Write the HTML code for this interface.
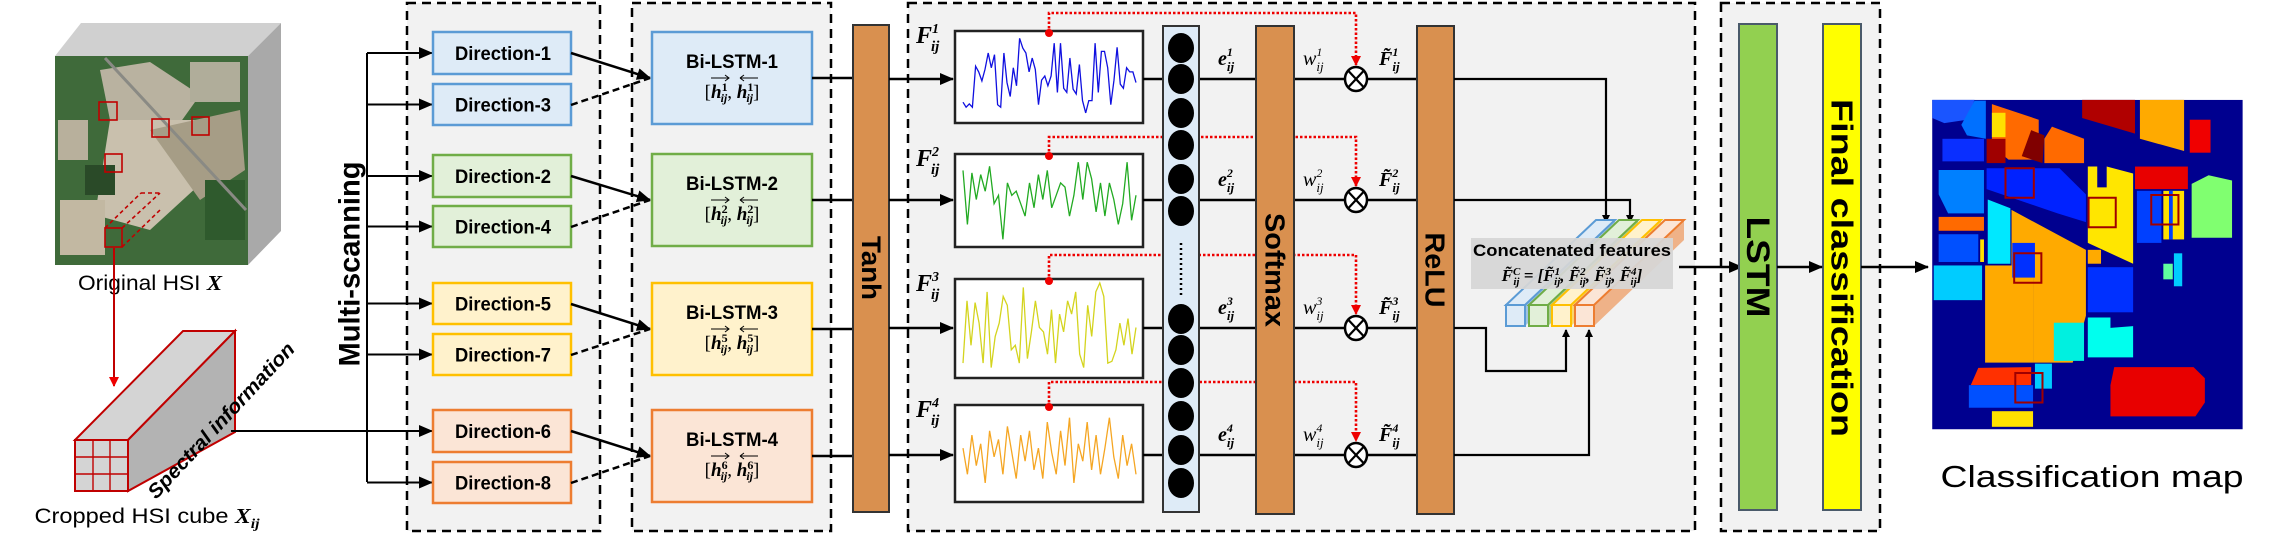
<!DOCTYPE html>
<html><head><meta charset="utf-8">
<style>
html,body{margin:0;padding:0;background:#fff;}
svg{display:block;}
.b{font-family:"Liberation Sans",sans-serif;font-weight:bold;}
.n{font-family:"Liberation Sans Narrow","Liberation Sans",sans-serif;}
.m{font-family:"Liberation Serif",serif;font-style:italic;font-weight:bold;}
</style></head>
<body>
<svg id="svg" width="2269" height="534" viewBox="0 0 2269 534" xmlns="http://www.w3.org/2000/svg">
<defs>
<marker id="ah" markerWidth="8" markerHeight="8" refX="7" refY="4" orient="auto" markerUnits="userSpaceOnUse"><path d="M0,0 L8,4 L0,8 z" fill="#000"/></marker>
<marker id="ahb" markerWidth="14" markerHeight="12" refX="13" refY="6" orient="auto" markerUnits="userSpaceOnUse"><path d="M0,0 L14,6 L0,12 z" fill="#000"/></marker>
<marker id="ahr" markerWidth="10" markerHeight="10" refX="9" refY="5" orient="auto" markerUnits="userSpaceOnUse"><path d="M0,0 L10,5 L0,10 z" fill="#e00"/></marker>
</defs>

<rect x="407" y="3" width="193" height="528" fill="#f2f2f2" stroke="#000" stroke-width="2.5" stroke-dasharray="9,6"/>
<rect x="632" y="3" width="199" height="528" fill="#f2f2f2" stroke="#000" stroke-width="2.5" stroke-dasharray="9,6"/>
<rect x="908" y="3" width="787" height="528" fill="#f2f2f2" stroke="#000" stroke-width="2.5" stroke-dasharray="9,6"/>
<rect x="1721" y="3" width="159" height="528" fill="#f2f2f2" stroke="#000" stroke-width="2.5" stroke-dasharray="9,6"/>

<g>
<polygon points="55,56 81,23 281,23 248,56" fill="#d0d0d0"/>
<polygon points="248,56 281,23 281,231 248,265" fill="#a9a9a9"/>
<rect x="55" y="56" width="193" height="209" fill="#3f6a3a"/>
<polygon points="100,70 150,62 200,95 175,130 110,120" fill="#b9b2a0"/>
<polygon points="110,120 200,120 210,175 150,230 95,215" fill="#c9c0ad"/>
<polygon points="150,130 240,110 245,170 200,200" fill="#a69d86"/>
<rect x="60" y="200" width="45" height="55" fill="#c2b8a2"/>
<rect x="190" y="62" width="50" height="40" fill="#b0ad9a"/>
<rect x="58" y="120" width="30" height="40" fill="#b8b09c"/>
<rect x="85" y="165" width="30" height="30" fill="#2a4a28"/>
<rect x="205" y="180" width="40" height="60" fill="#2f5a2d"/>
<line x1="105" y1="58" x2="246" y2="210" stroke="#8a8a84" stroke-width="3"/>
<g fill="none" stroke="#c00000" stroke-width="1.6">
<rect x="99" y="102" width="18" height="18"/><rect x="152" y="119" width="17" height="18"/>
<rect x="192" y="117" width="17" height="18"/><rect x="105" y="154" width="17" height="18"/>
<rect x="105" y="228" width="17" height="19"/>
<line x1="105" y1="228" x2="141" y2="193" stroke-dasharray="4,3"/><line x1="122" y1="228" x2="160" y2="193" stroke-dasharray="4,3"/>
<line x1="141" y1="193" x2="160" y2="193" stroke-dasharray="4,3"/><line x1="122" y1="247" x2="160" y2="210" stroke-dasharray="4,3"/>
</g>
</g>
<text x="150" y="290" text-anchor="middle" font-family="Liberation Sans, sans-serif" font-size="21" textLength="144" lengthAdjust="spacingAndGlyphs">Original HSI <tspan class="m">X</tspan></text>
<line x1="114" y1="248" x2="114" y2="386" stroke="#c00000" stroke-width="2" marker-end="url(#ahr)"/>

<g stroke="#c00000" stroke-width="2">
<polygon points="75,440 183,331 235,331 128,440" fill="#d4d4d4"/>
<polygon points="128,440 235,331 235,432 128,491" fill="#b3b3b3"/>
<rect x="75" y="440" width="53" height="51" fill="#d4d4d4"/>
<line x1="93" y1="440" x2="93" y2="491" stroke-width="1.4"/><line x1="110" y1="440" x2="110" y2="491" stroke-width="1.4"/>
<line x1="75" y1="457" x2="128" y2="457" stroke-width="1.4"/><line x1="75" y1="474" x2="128" y2="474" stroke-width="1.4"/>
</g>
<text transform="translate(226,425) rotate(-47)" text-anchor="middle" class="b" font-style="italic" font-size="20" textLength="205" lengthAdjust="spacingAndGlyphs">Spectral information</text>
<text x="147" y="523" text-anchor="middle" font-family="Liberation Sans, sans-serif" font-size="21" textLength="225" lengthAdjust="spacingAndGlyphs">Cropped HSI cube <tspan class="m">X</tspan><tspan class="m" font-size="14" dy="5">ij</tspan></text>

<g stroke="#000" stroke-width="2" fill="none">
<line x1="231" y1="431" x2="367" y2="431"/>
<line x1="367" y1="53" x2="367" y2="482"/>
</g>
<text transform="translate(350,264) rotate(-90)" text-anchor="middle" dominant-baseline="central" class="b" font-size="30" textLength="205" lengthAdjust="spacingAndGlyphs">Multi-scanning</text>

<g id="dirs"></g>
<g id="bilstm"></g>

<rect x="853" y="25" width="36" height="487" fill="#d9904f" stroke="#333" stroke-width="2"/>
<text transform="translate(871,268) rotate(90)" text-anchor="middle" dominant-baseline="central" class="b" font-size="27" textLength="64" lengthAdjust="spacingAndGlyphs">Tanh</text>

<g id="rows"></g>

<rect x="1163" y="26" width="36" height="486" fill="#deebf7" stroke="#333" stroke-width="2"/>
<g id="neurons"></g>
<line x1="1181" y1="243" x2="1181" y2="295" stroke="#000" stroke-width="2.5" stroke-dasharray="2,3"/>

<rect x="1256" y="26" width="38" height="488" fill="#d9904f" stroke="#333" stroke-width="2"/>
<text transform="translate(1275,270) rotate(90)" text-anchor="middle" dominant-baseline="central" class="b" font-size="28" textLength="114" lengthAdjust="spacingAndGlyphs">Softmax</text>
<rect x="1417" y="26" width="37" height="488" fill="#d9904f" stroke="#333" stroke-width="2"/>
<text transform="translate(1435,270) rotate(90)" text-anchor="middle" dominant-baseline="central" class="b" font-size="28" textLength="75" lengthAdjust="spacingAndGlyphs">ReLU</text>

<g stroke="#000" stroke-width="2.2" fill="none">
<polyline points="1454,79 1606,79 1606,222" marker-end="url(#ah)"/>
<polyline points="1454,200 1630,200 1630,222" marker-end="url(#ah)"/>
<polyline points="1454,328 1486,328 1486,371 1566,371 1566,330" marker-end="url(#ah)"/>
<polyline points="1454,455 1589,455 1589,330" marker-end="url(#ah)"/>
</g>
<g id="concat"></g>
<rect x="1471" y="238" width="202" height="51" fill="#d6d6d6" opacity="0.93"/>
<text x="1572" y="256" text-anchor="middle" class="b" font-size="17" textLength="198" lengthAdjust="spacingAndGlyphs">Concatenated features</text>
<text x="1572" y="281" text-anchor="middle" class="m" font-size="17">F̃<tspan font-size="11" dy="-6">C</tspan><tspan font-size="11" dx="-7" dy="10">ij</tspan><tspan dy="-4"> = [F̃</tspan><tspan font-size="11" dy="-6">1</tspan><tspan font-size="11" dx="-6" dy="10">ij</tspan><tspan dy="-4">, F̃</tspan><tspan font-size="11" dy="-6">2</tspan><tspan font-size="11" dx="-6" dy="10">ij</tspan><tspan dy="-4">, F̃</tspan><tspan font-size="11" dy="-6">3</tspan><tspan font-size="11" dx="-6" dy="10">ij</tspan><tspan dy="-4">, F̃</tspan><tspan font-size="11" dy="-6">4</tspan><tspan font-size="11" dx="-6" dy="10">ij</tspan><tspan dy="-4">]</tspan></text>
<line x1="1679" y1="267" x2="1742" y2="267" stroke="#000" stroke-width="2.5" marker-end="url(#ahb)"/>

<rect x="1739" y="24" width="38" height="486" fill="#92d050" stroke="#4a5a6a" stroke-width="2"/>
<text transform="translate(1758,267) rotate(90)" text-anchor="middle" dominant-baseline="central" class="b" font-size="32" textLength="101" lengthAdjust="spacingAndGlyphs">LSTM</text>
<rect x="1823" y="24" width="38" height="486" fill="#ffff00" stroke="#4a5a6a" stroke-width="2"/>
<text transform="translate(1842,268) rotate(90)" text-anchor="middle" dominant-baseline="central" class="b" font-size="31" textLength="338" lengthAdjust="spacingAndGlyphs">Final classification</text>
<line x1="1777" y1="267" x2="1822" y2="267" stroke="#000" stroke-width="2.5" marker-end="url(#ahb)"/>
<line x1="1861" y1="267" x2="1928" y2="267" stroke="#000" stroke-width="2.5" marker-end="url(#ahb)"/>

<g transform="translate(1680,0) scale(0.3776,0.347)">
<rect x="668" y="288" width="822" height="949" fill="#00008f"/>
<polygon points="668,288 780,288 760,345 700,355 668,340" fill="#1a55ff"/>
<polygon points="780,290 810,290 810,400 760,390 745,360" fill="#0070ff"/>
<polygon points="826,300 950,345 950,460 870,460 826,420" fill="#ff6a00"/>
<rect x="826" y="325" width="36" height="70" fill="#ffe000"/>
<rect x="812" y="400" width="50" height="70" fill="#a00000"/>
<polygon points="930,375 965,390 960,470 905,450" fill="#800000"/>
<polygon points="985,365 1070,400 1070,470 965,470 965,400" fill="#ff6a00"/>
<polygon points="1065,288 1205,288 1205,385 1065,340" fill="#b00000"/>
<polygon points="1218,288 1335,288 1335,435 1218,400" fill="#ffaa00"/>
<rect x="1350" y="345" width="55" height="95" fill="#f00000"/>
<rect x="695" y="400" width="110" height="65" fill="#0a2fff"/>
<polygon points="685,490 805,490 805,615 710,615 685,560" fill="#0080ff"/>
<polygon points="812,485 1005,485 1075,560 1075,640 1000,615 812,545" fill="#0022ff"/>
<rect x="685" y="625" width="120" height="40" fill="#ff6a00"/>
<rect x="685" y="675" width="105" height="80" fill="#0050ff"/>
<rect x="795" y="690" width="10" height="65" fill="#ffe000"/>
<rect x="672" y="765" width="128" height="100" fill="#00ccff"/>
<polygon points="815,575 875,600 875,760 815,760" fill="#00e8ff"/>
<polygon points="878,605 1075,720 1075,910 1040,1045 935,1045 935,800 878,790" fill="#ffaa00"/>
<rect x="808" y="765" width="127" height="280" fill="#ffaa00"/>
<rect x="880" y="700" width="60" height="100" fill="#0030ff"/>
<polygon points="1080,480 1105,480 1105,540 1130,540 1130,480 1200,500 1200,760 1080,700" fill="#ffe600"/>
<rect x="1080" y="720" width="35" height="40" fill="#ffaa00"/>
<rect x="1080" y="770" width="120" height="130" fill="#0030ff"/>
<rect x="1205" y="480" width="140" height="65" fill="#e80000"/>
<rect x="1210" y="550" width="65" height="150" fill="#0040ff"/>
<rect x="1280" y="550" width="55" height="140" fill="#ffe000"/>
<rect x="1295" y="550" width="10" height="140" fill="#0040ff"/>
<polygon points="1355,530 1400,505 1462,520 1462,685 1355,685" fill="#80ff70"/>
<rect x="1280" y="760" width="25" height="45" fill="#60ff9f"/>
<rect x="1308" y="730" width="22" height="95" fill="#00ccff"/>
<rect x="990" y="930" width="80" height="110" fill="#00f0e0"/>
<polygon points="1080,915 1140,915 1140,945 1200,940 1200,1030 1080,1030" fill="#00ffee"/>
<polygon points="790,1060 930,1058 930,1110 770,1110" fill="#ff3000"/>
<rect x="765" y="1110" width="170" height="65" fill="#0050ff"/>
<rect x="940" y="1048" width="45" height="72" fill="#00ccff"/>
<polygon points="1150,1058 1360,1058 1390,1090 1390,1160 1365,1200 1140,1200 1140,1110" fill="#e80000"/>
<rect x="826" y="1185" width="109" height="45" fill="#ffe000"/>
<g fill="none" stroke="#a00000" stroke-width="2">
<rect x="862" y="485" width="75" height="85" vector-effect="non-scaling-stroke"/>
<rect x="1082" y="570" width="72" height="85" vector-effect="non-scaling-stroke"/>
<rect x="1248" y="562" width="72" height="85" vector-effect="non-scaling-stroke"/>
<rect x="885" y="730" width="72" height="85" vector-effect="non-scaling-stroke"/>
<rect x="888" y="1075" width="72" height="85" vector-effect="non-scaling-stroke"/>
</g>
</g>
<text x="2092" y="487" text-anchor="middle" font-family="Liberation Sans, sans-serif" font-size="31" textLength="303" lengthAdjust="spacingAndGlyphs">Classification map</text>
</svg>

<script>
const sig1 = [0.18,0.12,0.16,0.12,0.62,0.55,0.44,0.58,0.78,0.6,0.76,0.15,0.12,0.78,0.42,0.25,0.6,0.38,0.96,0.84,0.78,0.55,0.72,0.58,0.15,0.45,0.5,0.38,0.5,0.9,0.3,0.9,0.35,0.3,0.72,0.34,0.28,0.64,0.2,0.05,0.2,0.2,0.9,0.3,0.8,0.8,0.6,0.15,0.45,0.85,0.4,0.35,0.6,0.55,0.55,0.42];
const sig2 = [0.85,0.2,0.82,0.5,0.8,0.6,0.9,0.45,0.55,0.02,0.7,0.55,0.6,0.45,0.3,0.7,0.4,0.8,0.5,0.85,0.4,0.55,0.7,0.65,0.3,0.55,0.95,0.5,0.95,0.75,0.35,0.7,0.3,0.7,0.5,0.2,0.45,0.95,0.25,0.55];
const sig3 = [0.1,0.8,0.3,0.78,0.55,0.1,0.9,0.05,0.4,0.55,0.85,0.75,0.25,0.3,0.1,0.95,0.15,0.45,0.8,0.5,0.45,0.2,0.7,0.1,0.65,0.45,0.8,0.65,0.9,0.2,0.05,0.75,0.4,0.9,1.0,0.85,0.1,0.12,0.25,0.55,0.3,0.6,0.2,0.5];
const sig4 = [0.55,0.25,0.7,0.35,0.6,0.15,0.75,0.45,0.65,0.25,0.8,0.5,0.2,0.7,0.4,0.75,0.3,0.55,0.2,0.85,0.5,0.25,0.75,0.35,0.9,0.15,0.6,0.4,0.85,0.3,0.7,0.25,0.55,0.9,0.45,0.2,0.7,0.35,0.6,0.25];
const signals = [sig1, sig2, sig3, sig4];
const sigColors = ['#1010e0','#22aa22','#d4d41e','#f5a623'];
const rowLabels = ['1','2','3','4'];
const dirNames = ['Direction-1','Direction-3','Direction-2','Direction-4','Direction-5','Direction-7','Direction-6','Direction-8'];
const hIdx = ['1','2','5','6'];

const NS='http://www.w3.org/2000/svg';
function mk(tag, attrs, parent){const e=document.createElementNS(NS,tag);for(const k in attrs)e.setAttribute(k,attrs[k]);parent.appendChild(e);return e;}
const pal=[['#deebf7','#5b9bd5'],['#e2f0d9','#70ad47'],['#fff2cc','#ffc000'],['#fbe5d6','#ed7d31']];

const dirY=[[32,74],[84,125],[155,197],[206,247],[283,324],[334,375],[410,452],[462,503]];
const dg=document.getElementById('dirs');
dirY.forEach((d,i)=>{
  const c=pal[Math.floor(i/2)];
  const my=(d[0]+d[1])/2;
  const a=mk('line',{x1:367,y1:my,x2:432,y2:my,stroke:'#000','stroke-width':2,'marker-end':'url(#ahb)'},dg);
  
  
  const r=mk('rect',{x:433,y:d[0],width:138,height:d[1]-d[0],fill:c[0],stroke:c[1],'stroke-width':2.5},dg);
  
  
  const t=mk('text',{x:503,y:my+7,'text-anchor':'middle','class':'b','font-size':19,textLength:96,lengthAdjust:'spacingAndGlyphs'},dg);
  t.textContent=dirNames[i];
  
  
});

const bY=[[32,124],[154,246],[283,375],[410,502]];
const bg=document.getElementById('bilstm');
bY.forEach((b,i)=>{
  const c=pal[i];const my=(b[0]+b[1])/2;
  const l1=mk('line',{x1:571,y1:dirY[2*i][0]+21,x2:650,y2:my,stroke:'#000','stroke-width':2.5,'marker-end':'url(#ahb)'},bg);
  
  
  const l2=mk('line',{x1:571,y1:dirY[2*i+1][0]+21,x2:650,y2:my,stroke:'#000','stroke-width':2.5,'stroke-dasharray':'7,4'},bg);
  
  
  const r=mk('rect',{x:652,y:b[0],width:160,height:b[1]-b[0],fill:c[0],stroke:c[1],'stroke-width':2.5},bg);
  
  
  const t=mk('text',{x:732,y:b[0]+36,'text-anchor':'middle','class':'b','font-size':19,textLength:92,lengthAdjust:'spacingAndGlyphs'},bg);
  t.textContent='Bi-LSTM-'+(i+1);
  
  
  const f=mk('text',{x:732,y:b[0]+66,'text-anchor':'middle','font-family':'Liberation Serif, serif','font-size':19},bg);
  f.innerHTML='[<tspan font-style="italic" font-weight="bold">h</tspan><tspan font-size="12" dy="-7" font-weight="bold">'+hIdx[i]+'</tspan><tspan font-size="12" dx="-7" dy="11" font-style="italic" font-weight="bold">ij</tspan><tspan dy="-4">, </tspan><tspan font-style="italic" font-weight="bold">h</tspan><tspan font-size="12" dy="-7" font-weight="bold">'+hIdx[i]+'</tspan><tspan font-size="12" dx="-7" dy="11" font-style="italic" font-weight="bold">ij</tspan><tspan dy="-4">]</tspan>';
  
  
  mk('path',{d:'M711 '+(b[0]+46)+' h18 m-4 -3 l4 3 l-4 3',stroke:'#000','stroke-width':1,fill:'none'},bg);
  mk('path',{d:'M740 '+(b[0]+46)+' h18 m-18 0 l4 -3 m-4 3 l4 3',stroke:'#000','stroke-width':1,fill:'none'},bg);
  const o=mk('line',{x1:812,y1:my,x2:853,y2:my,stroke:'#000','stroke-width':2.5},bg);
  
  
});

const rowY=[79,200,328,455];
const plotBox=[[31,123],[154,247],[279,378],[405,502]];
const redTop=[13,137,255,382];
const rg=document.getElementById('rows');
function xs(i,n){return 963+i*(1136-963)/(n-1);}
function ys(v,b){return b[1]-6-v*(b[1]-b[0]-10);}
rowY.forEach((y,i)=>{
  const b=plotBox[i];
  const a=mk('line',{x1:889,y1:y,x2:953,y2:y,stroke:'#000','stroke-width':2.5,'marker-end':'url(#ahb)'},rg);
  
  
  const r=mk('rect',{x:955,y:b[0],width:188,height:b[1]-b[0],fill:'#fff',stroke:'#222','stroke-width':2.5},rg);
  
  
  const s=signals[i];
  const pts=s.map((v,k)=>xs(k,s.length).toFixed(1)+','+ys(v,b).toFixed(1)).join(' ');
  const pl=mk('polyline',{points:pts,fill:'none',stroke:sigColors[i],'stroke-width':1.3},rg);
  
  
  const lab=mk('text',{x:916,y:b[0]+12,'class':'m','font-size':24},rg);
  lab.innerHTML='F<tspan font-size="14" dy="-10">'+rowLabels[i]+'</tspan><tspan font-size="15" dx="-8" dy="18">ij</tspan>';
  
  
  [[1143,1163],[1199,1256],[1294,1417]].forEach(p=>{
    const l=mk('line',{x1:p[0],y1:y,x2:p[1],y2:y,stroke:'#000','stroke-width':2.5},rg);
    
    
  });
  const rl=mk('polyline',{points:'1049,'+(b[0]+2)+' 1049,'+redTop[i]+' 1356,'+redTop[i]+' 1356,'+(y-14),fill:'none',stroke:'#e00','stroke-width':2.6,'stroke-dasharray':'2.5,2','marker-end':'url(#ahr)'},rg);
  
  
  mk('circle',{cx:1049,cy:b[0]+2,r:4,fill:'#e00'},rg);
  const c=mk('ellipse',{cx:1356,cy:y,rx:11,ry:12,fill:'#fff',stroke:'#000','stroke-width':2.5},rg);
  
  
  mk('path',{d:'M1348.5 '+(y-8)+' l15 16 M1363.5 '+(y-8)+' l-15 16',stroke:'#000','stroke-width':2.2},rg);
  const e=mk('text',{x:1218,y:y-14,'class':'m','font-size':20},rg);
  e.innerHTML='e<tspan font-size="12" dy="-9">'+rowLabels[i]+'</tspan><tspan font-size="13" dx="-6" dy="15">ij</tspan>';
  
  
  const w=mk('text',{x:1303,y:y-14,'font-family':'Liberation Serif, serif','font-style':'italic','font-size':20},rg);
  w.innerHTML='w<tspan font-size="12" dy="-9">'+rowLabels[i]+'</tspan><tspan font-size="13" dx="-6" dy="15">ij</tspan>';
  
  
  const ft=mk('text',{x:1379,y:y-14,'class':'m','font-size':20},rg);
  ft.innerHTML='F̃<tspan font-size="12" dy="-9">'+rowLabels[i]+'</tspan><tspan font-size="13" dx="-6" dy="15">ij</tspan>';
  
  
});

const neuronY=[48,79,113,145,179,211,319,350,383,416,450,483];
const ng=document.getElementById('neurons');
neuronY.forEach(cy=>{
  const n=mk('ellipse',{cx:1181,cy:cy,rx:13,ry:15,fill:'#000'},ng);
  
  
});

const cg=document.getElementById('concat');
const cx0=[1506,1529,1552,1575];
cx0.forEach((x,i)=>{
  const c=pal[i];
  const p=mk('polygon',{points:[x,305,x+90,220,x+109,220,x+19,305].join(','),fill:c[0],stroke:c[1],'stroke-width':2},cg);
  
  
  const s=mk('polygon',{points:[x+19,305,x+109,220,x+109,240,x+19,326].join(','),fill:c[1],opacity:0.55},cg);
  
  
  const f=mk('rect',{x:x,y:305,width:19,height:21,fill:c[0],stroke:c[1],'stroke-width':2},cg);
  
  
});
</script>
</body></html>
